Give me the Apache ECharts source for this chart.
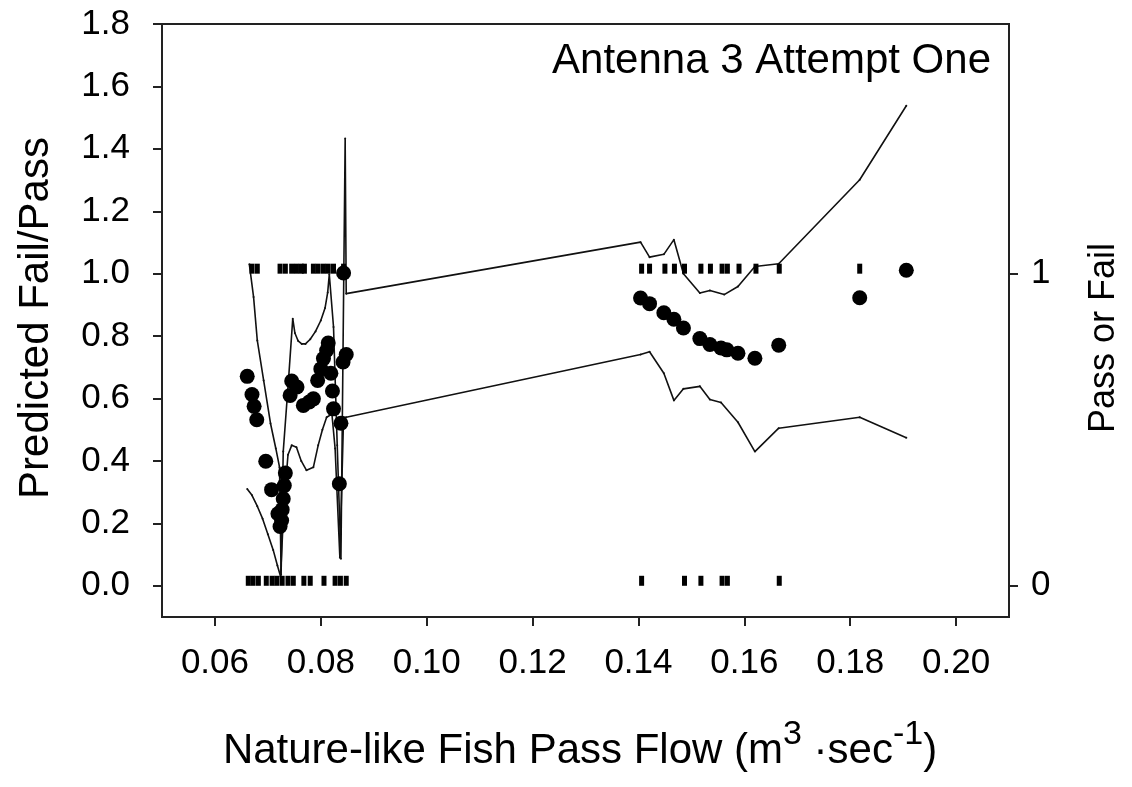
<!DOCTYPE html>
<html>
<head>
<meta charset="utf-8">
<script src="https://cdn.jsdelivr.net/npm/echarts@6/dist/echarts.min.js"></script>
<style>html,body{margin:0;padding:0;background:#fff;}#c{width:1132px;height:787px;}</style>
</head>
<body>
<div id="c"></div>
<script>
// ---- data ----
const predX = [0.0661,0.0670,0.0674,0.0679,0.0696,0.0707,0.0719,0.0723,0.0726,0.0727,0.0729,0.0731,0.0733,0.0742,0.0745,0.0755,0.0767,0.0778,0.0786,0.0794,0.0800,0.0805,0.0811,0.0814,0.0819,0.0822,0.0824,0.0835,0.0838,0.0842,0.0848,0.0843,
  0.1404,0.1421,0.1448,0.1467,0.1485,0.1516,0.1535,0.1556,0.1567,0.1588,0.1620,0.1665,0.1818,0.1906];
const predY = [0.671,0.613,0.575,0.532,0.399,0.308,0.231,0.190,0.209,0.244,0.279,0.321,0.361,0.610,0.656,0.637,0.578,0.589,0.599,0.658,0.695,0.728,0.754,0.778,0.681,0.624,0.567,0.327,0.521,0.717,0.741,1.002,
  0.922,0.904,0.875,0.854,0.826,0.792,0.773,0.762,0.756,0.745,0.729,0.771,0.923,1.011];

const passX = [0.0670,0.0680,0.0723,0.0733,0.0745,0.0754,0.0763,0.0769,0.0786,0.0795,0.0805,0.0814,0.0824,0.0843,
  0.1406,0.1421,0.1450,0.1468,0.1487,0.1518,0.1536,0.1558,0.1568,0.1590,0.1622,0.1666,0.1818,0.1906];
const failX = [0.0663,0.0672,0.0682,0.0697,0.0708,0.0717,0.0727,0.0738,0.0748,0.0768,0.0780,0.0806,0.0827,0.0837,0.0848,
  0.1406,0.1487,0.1518,0.1558,0.1568,0.1666];

const upperX = [0.0665,0.0673,0.0680,0.0692,0.0705,0.0715,0.0722,0.0725,0.0729,0.0739,0.0747,0.0751,0.0757,0.0764,0.0771,0.0780,0.0790,0.0800,0.0808,0.0813,0.0816,0.0824,0.0831,0.0838,0.0846,0.0848,
  0.1404,0.1421,0.1448,0.1467,0.1485,0.1516,0.1535,0.1562,0.1588,0.1620,0.1665,0.1818,0.1906];
const upperY = [1.030,0.925,0.786,0.658,0.520,0.440,0.380,0.035,0.430,0.660,0.856,0.810,0.785,0.775,0.775,0.790,0.815,0.850,0.890,0.940,0.998,0.829,0.450,0.087,1.433,0.936,
  1.101,1.053,1.062,1.109,1.000,0.938,0.946,0.933,0.959,1.023,1.032,1.301,1.538];

const lowerX = [0.0661,0.0670,0.0680,0.0690,0.0700,0.0710,0.0718,0.0724,0.0730,0.0738,0.0745,0.0754,0.0763,0.0773,0.0786,0.0795,0.0803,0.0811,0.0821,0.0827,0.0836,0.0843,0.0848,
  0.1404,0.1421,0.1448,0.1467,0.1485,0.1516,0.1535,0.1556,0.1588,0.1620,0.1665,0.1818,0.1906];
const lowerY = [0.310,0.290,0.255,0.215,0.165,0.115,0.065,0.030,0.250,0.420,0.450,0.444,0.400,0.370,0.380,0.450,0.500,0.540,0.550,0.440,0.090,0.540,0.540,
  0.741,0.750,0.681,0.594,0.631,0.639,0.597,0.587,0.524,0.430,0.505,0.540,0.474];

const yTicks = [0,0.2,0.4,0.6,0.8,1.0,1.2,1.4,1.6,1.8];
const xTicks = [0.06,0.08,0.10,0.12,0.14,0.16,0.18,0.20];
const rightTicks = [0,1];
const annotation = 'Antenna 3 Attempt One';

// ---- chart ----
const FONT = "'Liberation Sans', Arial, Helvetica, sans-serif";
const INK = '#111';
const zip = (xs, ys) => xs.map((x, i) => [x, ys[i]]);

const chart = echarts.init(document.getElementById('c'), null, {renderer: 'canvas'});
chart.setOption({
  animation: false,
  backgroundColor: '#fff',
  grid: {left: 162, right: 123, top: 24, bottom: 170, show: true, borderColor: '#222', borderWidth: 2, backgroundColor: 'transparent'},
  xAxis: {
    type: 'value', min: 0.05, max: 0.21,
    splitLine: {show: false},
    axisLine: {show: true, onZero: false, lineStyle: {color: '#222', width: 2}},
    axisTick: {show: true, inside: false, length: 9, lineStyle: {color: '#222', width: 2}, customValues: xTicks},
    axisLabel: {customValues: xTicks, formatter: v => v.toFixed(2), fontFamily: FONT, fontSize: 35, color: '#000', margin: 29}
  },
  yAxis: [{
    type: 'value', min: -0.1, max: 1.8, position: 'left',
    splitLine: {show: false},
    axisLine: {show: true, onZero: false, lineStyle: {color: '#222', width: 2}},
    axisTick: {show: true, inside: false, length: 9, lineStyle: {color: '#222', width: 2}, customValues: yTicks},
    axisLabel: {customValues: yTicks, formatter: v => v.toFixed(1), fontFamily: FONT, fontSize: 35, color: '#000', margin: 32}
  }, {
    type: 'value', min: -0.1, max: 1.8, position: 'right',
    splitLine: {show: false},
    axisLine: {show: true, onZero: false, lineStyle: {color: '#222', width: 2}},
    axisTick: {show: true, inside: false, length: 9, lineStyle: {color: '#222', width: 2}, customValues: rightTicks},
    axisLabel: {customValues: rightTicks, formatter: v => String(Math.round(v)), fontFamily: FONT, fontSize: 35, color: '#000', margin: 22}
  }],
  graphic: [
    {type: 'text', x: 991, y: 61, style: {text: annotation, fontFamily: FONT, fontSize: 42, fill: '#000', textAlign: 'right', textVerticalAlign: 'middle'}},
    {type: 'text', x: 36, y: 318, rotation: Math.PI / 2, style: {text: 'Predicted Fail/Pass', fontFamily: FONT, fontSize: 42, fill: '#000', textAlign: 'center', textVerticalAlign: 'middle'}},
    {type: 'text', x: 1104, y: 338, rotation: Math.PI / 2, style: {text: 'Pass or Fail', fontFamily: FONT, fontSize: 36, fill: '#000', textAlign: 'center', textVerticalAlign: 'middle'}},
    {type: 'text', x: 580, y: 745, style: {
      text: '{a|Nature-like Fish Pass Flow (m}{s|3}{a| ·sec}{s|-1}{a|)}',
      textAlign: 'center', textVerticalAlign: 'middle',
      rich: {
        a: {fontFamily: FONT, fontSize: 42, fill: '#000', lineHeight: 54, verticalAlign: 'bottom'},
        s: {fontFamily: FONT, fontSize: 34, fill: '#000', lineHeight: 34, verticalAlign: 'top'}
      }
    }}
  ],
  series: [
    {type: 'line', data: zip(upperX, upperY), symbol: 'circle', symbolSize: 2, showSymbol: true,
     lineStyle: {color: INK, width: 1.6}, itemStyle: {color: INK}, z: 3},
    {type: 'line', data: zip(lowerX, lowerY), symbol: 'circle', symbolSize: 2, showSymbol: true,
     lineStyle: {color: INK, width: 1.6}, itemStyle: {color: INK}, z: 3},
    {type: 'scatter', data: passX.map(x => [x, 1]), symbol: 'rect', symbolSize: [5, 10], symbolOffset: [0, -5], itemStyle: {color: '#000', opacity: 1}, z: 4},
    {type: 'scatter', data: failX.map(x => [x, 0]), symbol: 'rect', symbolSize: [5, 10], symbolOffset: [0, -5], itemStyle: {color: '#000', opacity: 1}, z: 4},
    {type: 'scatter', data: zip(predX, predY), symbol: 'circle', symbolSize: 15, itemStyle: {color: '#000', opacity: 1}, z: 5}
  ]
});
</script>
</body>
</html>
